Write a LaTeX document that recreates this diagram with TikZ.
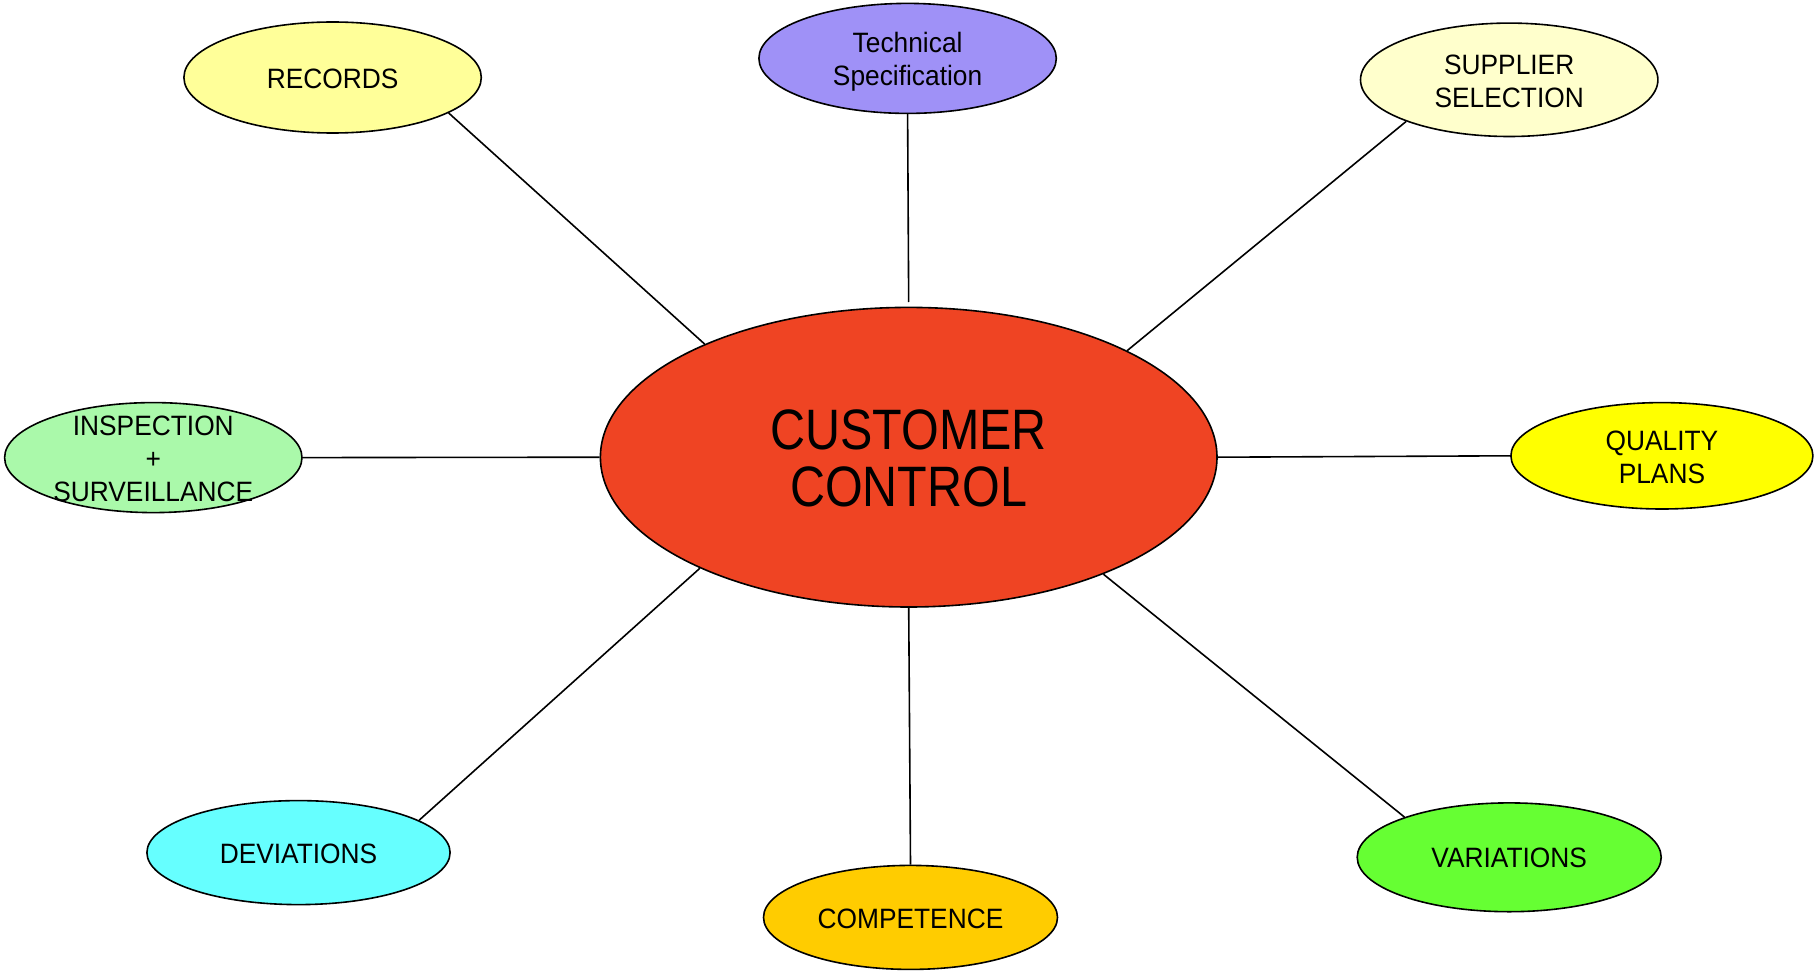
\documentclass[tikz,border=0pt]{standalone}
\usepackage{fontspec}
\setmainfont{Liberation Sans}
\newfontfamily\bigfont[FakeStretch=0.85]{Liberation Sans}
\newfontfamily\smallfont[FakeStretch=0.94]{Liberation Sans}
\usetikzlibrary{shapes.geometric}
\definecolor{cCenter}{HTML}{EF4423}
\definecolor{cRecords}{HTML}{FFFF99}
\definecolor{cTech}{HTML}{9F91F7}
\definecolor{cSupplier}{HTML}{FFFFCC}
\definecolor{cInspect}{HTML}{AAF9AA}
\definecolor{cQuality}{HTML}{FFFF00}
\definecolor{cDev}{HTML}{66FFFF}
\definecolor{cComp}{HTML}{FFCC00}
\definecolor{cVar}{HTML}{66FF33}
\begin{document}
\begin{tikzpicture}[x=0.5pt,y=-0.5pt,
  bub/.style={ellipse,draw=black,line width=0.8pt,inner sep=0pt},
  lbl/.style={align=center,inner sep=0pt,font=\fontsize{14}{16.4}\smallfont},
  biglbl/.style={align=center,inner sep=0pt,font=\fontsize{28.5}{28.5}\bigfont},
  link/.style={line width=0.8pt,draw=black}]
\useasboundingbox (0,0) rectangle (1814,973);
% bubbles
\node[bub,fill=cCenter,minimum width=308.3pt,minimum height=149.8pt] (center) at (908.7,457.2) {};
\node[bub,fill=cRecords,minimum width=148.7pt,minimum height=55.5pt] (records) at (332.6,77.5) {};
\node[bub,fill=cTech,minimum width=148.7pt,minimum height=55pt] (tech) at (907.6,58.4) {};
\node[bub,fill=cSupplier,minimum width=148.7pt,minimum height=56.7pt] (supplier) at (1509.2,79.8) {};
\node[bub,fill=cInspect,minimum width=148.7pt,minimum height=55pt] (inspect) at (153.3,457.6) {};
\node[bub,fill=cQuality,minimum width=151pt,minimum height=53.2pt] (quality) at (1661.9,455.8) {};
\node[bub,fill=cDev,minimum width=151.6pt,minimum height=52pt] (dev) at (298.5,852.6) {};
\node[bub,fill=cComp,minimum width=147pt,minimum height=52pt] (comp) at (910.5,917.4) {};
\node[bub,fill=cVar,minimum width=152pt,minimum height=54.4pt] (var) at (1509.2,857.3) {};
% connectors
\draw[link] (records.-17.8) -- (center.151.1);
\draw[link,shorten >=2.3pt] (tech.south) -- (center.north);
\draw[link] (supplier.202.6) -- (center.26.6);
\draw[link] (inspect.east) -- (center.west);
\draw[link] (center.0.5) -- (quality.west);
\draw[link] (dev.15.3) -- (center.208.9);
\draw[link] (comp.north) -- (center.south);
\draw[link] (var.159.1) -- (center.-31.1);
% labels
\node[biglbl] (tCenter) at (908.7,458) {CUSTOMER\\CONTROL};
\node[lbl] (tRecords) at (332.6,78.5) {RECORDS};
\node[lbl] (tTech) at (907.6,61.5) {Technical\\Specification};
\node[lbl] (tSupplier) at (1509.2,81.5) {SUPPLIER\\SELECTION};
\node[lbl] (tInspect) at (153.3,459) {INSPECTION\\+\\SURVEILLANCE};
\node[lbl] (tQuality) at (1661.9,457.5) {QUALITY\\PLANS};
\node[lbl] (tDev) at (298.5,853.6) {DEVIATIONS};
\node[lbl] (tComp) at (910.5,918.4) {COMPETENCE};
\node[lbl] (tVar) at (1509.2,858.3) {VARIATIONS};
\end{tikzpicture}
\end{document}
